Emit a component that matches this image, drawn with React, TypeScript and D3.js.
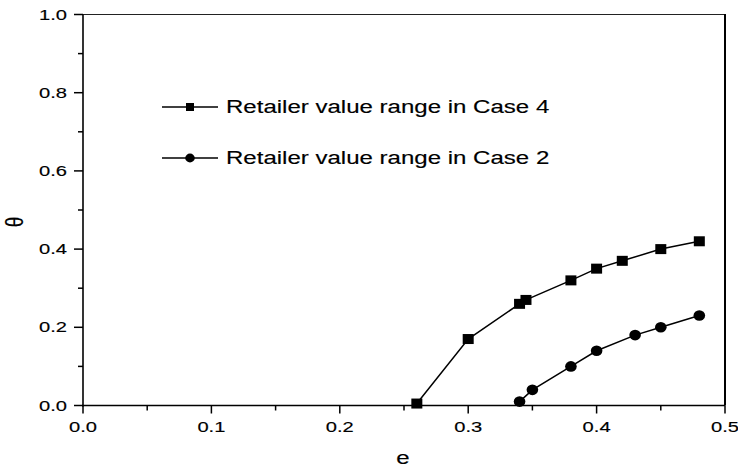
import * as d3 from "d3";

// e values and theta values
const case4E = [0.26, 0.3, 0.34, 0.345, 0.38, 0.4, 0.42, 0.45, 0.48];
const case4Theta = [0.005, 0.17, 0.26, 0.27, 0.32, 0.35, 0.37, 0.4, 0.42];
const case2E = [0.34, 0.35, 0.38, 0.4, 0.43, 0.45, 0.48];
const case2Theta = [0.01, 0.04, 0.1, 0.14, 0.18, 0.2, 0.23];

const xTicks = [0, 0.1, 0.2, 0.3, 0.4, 0.5];
const yTicks = [0, 0.2, 0.4, 0.6, 0.8, 1.0];
const legendLabels = ["Retailer value range in Case 4", "Retailer value range in Case 2"];

const width = 738;
const height = 469;
const margin = { top: 14.5, right: 13, bottom: 63.5, left: 83 };
const font = "'Liberation Sans', Arial, sans-serif";
const stretch = 1.3; // the picture is wider than tall text would be

const x = d3.scaleLinear().domain([0, 0.5]).range([margin.left, width - margin.right]);
const y = d3.scaleLinear().domain([0, 1]).range([height - margin.bottom, margin.top]);

function StretchText(props: {
  x: number;
  y: number;
  size: number;
  anchor?: string;
  baseline?: string;
  children: string;
}) {
  return (
    <text
      transform={`translate(${props.x},${props.y}) scale(${stretch},1)`}
      fontSize={props.size}
      fontFamily={font}
      textAnchor={props.anchor || "start"}
      dominantBaseline={props.baseline || "auto"}
      fill="#000"
      stroke="#000"
      strokeWidth={0.15}
    >
      {props.children}
    </text>
  );
}

export default function App() {
  const line = d3
    .line<[number, number]>()
    .x((d) => x(d[0]))
    .y((d) => y(d[1]));
  const s4 = case4E.map((e, i) => [e, case4Theta[i]] as [number, number]);
  const s2 = case2E.map((e, i) => [e, case2Theta[i]] as [number, number]);

  const x0 = x.range()[0];
  const x1 = x.range()[1];
  const y0 = y.range()[0];
  const y1 = y.range()[1];

  const xMinor = d3.range(0.05, 0.5, 0.1);
  const yMinor = d3.range(0.1, 1, 0.2);

  const legendY = [107, 158];

  return (
    <svg
      width={width}
      height={height}
      style={{ position: "absolute", left: 0, top: 0, background: "#fff" }}
    >
      {/* frame */}
      <line x1={x0} x2={x1} y1={y1} y2={y1} stroke="#222" strokeWidth={1.2} />
      <line x1={x1} x2={x1} y1={y1 - 0.5} y2={y0} stroke="#000" strokeWidth={2} />
      <line x1={x0} x2={x0} y1={y1} y2={y0 + 1} stroke="#000" strokeWidth={1.6} />
      <line x1={x0 - 1} x2={x1} y1={y0} y2={y0} stroke="#000" strokeWidth={1.6} />

      {/* x axis ticks */}
      {xTicks.map((t) => (
        <g key={"xt" + t}>
          <line x1={x(t)} x2={x(t)} y1={y0} y2={y0 + 8} stroke="#000" strokeWidth={1.5} />
          <StretchText x={x(t)} y={432} size={15.5} anchor="middle">
            {t.toFixed(1)}
          </StretchText>
        </g>
      ))}
      {xMinor.map((t) => (
        <line key={"xm" + t} x1={x(t)} x2={x(t)} y1={y0} y2={y0 + 5} stroke="#000" strokeWidth={1.5} />
      ))}

      {/* y axis ticks */}
      {yTicks.map((t) => (
        <g key={"yt" + t}>
          <line x1={x0 - 9} x2={x0} y1={y(t)} y2={y(t)} stroke="#000" strokeWidth={1.5} />
          <StretchText x={67} y={y(t)} size={15.5} anchor="end" baseline="central">
            {t.toFixed(1)}
          </StretchText>
        </g>
      ))}
      {yMinor.map((t) => (
        <line key={"ym" + t} x1={x0 - 5} x2={x0} y1={y(t)} y2={y(t)} stroke="#000" strokeWidth={1.5} />
      ))}

      {/* axis titles */}
      <StretchText x={403} y={458} size={18.5} anchor="middle" baseline="central">
        e
      </StretchText>
      <text
        transform="translate(15,222) rotate(-90) scale(1,1.3)"
        fontSize={19}
        fontFamily={font}
        textAnchor="middle"
        dominantBaseline="central"
        fill="#000"
        stroke="#000"
        strokeWidth={0.15}
      >
        θ
      </text>

      {/* series */}
      <path d={line(s4) || ""} fill="none" stroke="#000" strokeWidth={1.5} />
      <path d={line(s2) || ""} fill="none" stroke="#000" strokeWidth={1.5} />
      {s4.map((d, i) => (
        <rect key={"s4" + i} x={x(d[0]) - 5.5} y={y(d[1]) - 5} width={11} height={10} fill="#000" />
      ))}
      {s2.map((d, i) => (
        <ellipse key={"s2" + i} cx={x(d[0])} cy={y(d[1])} rx={5.8} ry={5.3} fill="#000" />
      ))}

      {/* legend */}
      {legendLabels.map((label, i) => (
        <g key={"lg" + i}>
          <line x1={162} x2={218} y1={legendY[i]} y2={legendY[i]} stroke="#000" strokeWidth={1.5} />
          {i === 0 ? (
            <rect x={186} y={legendY[i] - 4} width={8} height={8} fill="#000" />
          ) : (
            <ellipse cx={190} cy={legendY[i]} rx={4.8} ry={4.4} fill="#000" />
          )}
          <StretchText x={226} y={legendY[i]} size={18.5} baseline="central">
            {label}
          </StretchText>
        </g>
      ))}
    </svg>
  );
}
